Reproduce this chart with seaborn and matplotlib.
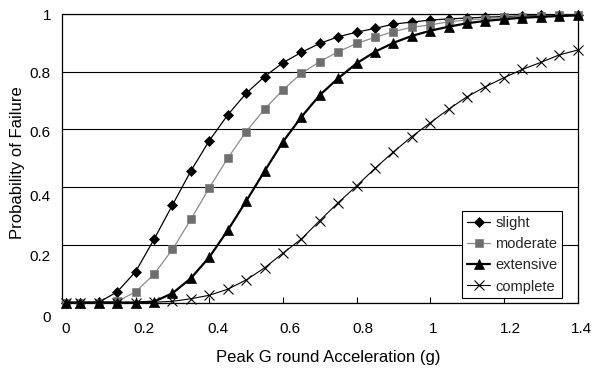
import matplotlib
matplotlib.use("Agg")
import matplotlib.pyplot as plt
import matplotlib.transforms as mtransforms
import seaborn as sns
import pandas as pd

# Peak ground acceleration (g) at which each fragility curve is evaluated
pga = [0.01, 0.05, 0.10, 0.15, 0.20, 0.25, 0.30, 0.35, 0.40, 0.45,
       0.50, 0.55, 0.60, 0.65, 0.70, 0.75, 0.80, 0.85, 0.90, 0.95,
       1.00, 1.05, 1.10, 1.15, 1.20, 1.25, 1.30, 1.35, 1.40]

# Probability of reaching or exceeding each damage state
slight = [0.000, 0.000, 0.001, 0.037, 0.107, 0.219, 0.338, 0.456, 0.561, 0.650,
          0.725, 0.783, 0.831, 0.867, 0.898, 0.921, 0.937, 0.950, 0.965, 0.972,
          0.979, 0.983, 0.986, 0.989, 0.991, 0.993, 0.995, 0.996, 0.997]
moderate = [0.000, 0.000, 0.000, 0.004, 0.037, 0.098, 0.184, 0.288, 0.397, 0.500,
            0.592, 0.670, 0.737, 0.794, 0.835, 0.869, 0.898, 0.919, 0.939, 0.954,
            0.962, 0.973, 0.979, 0.984, 0.988, 0.991, 0.993, 0.995, 0.996]
extensive = [0.000, 0.000, 0.000, 0.000, 0.000, 0.003, 0.032, 0.084, 0.157, 0.250,
             0.351, 0.455, 0.557, 0.643, 0.719, 0.777, 0.829, 0.869, 0.900, 0.924,
             0.942, 0.956, 0.968, 0.976, 0.982, 0.987, 0.990, 0.993, 0.995]
complete = [0.000, 0.000, 0.000, 0.000, 0.000, 0.001, 0.004, 0.013, 0.025, 0.046,
            0.078, 0.120, 0.171, 0.220, 0.284, 0.346, 0.404, 0.465, 0.522, 0.575,
            0.623, 0.670, 0.713, 0.748, 0.779, 0.808, 0.832, 0.858, 0.875]

states = ["slight", "moderate", "extensive", "complete"]
x_ticks = [0, 0.2, 0.4, 0.6, 0.8, 1.0, 1.2, 1.4]
x_ticklabels = ["0", "0.2", "0.4", "0.6", "0.8", "1", "1.2", "1.4"]
y_ticks = [0, 0.2, 0.4, 0.6, 0.8, 1.0]
y_ticklabels = ["0", "0.2", "0.4", "0.6", "0.8", "1"]

# small nudges (pixels) applied to the tick labels for the spreadsheet-style layout
x_label_nudge = [4, 8.5, 9, 7.5, 6, 2.5, 7, 3.5]
y_label_nudge = [14, 11, 8, 2, 1, 0]

df = pd.DataFrame({"pga": pga, "slight": slight, "moderate": moderate,
                   "extensive": extensive, "complete": complete})
long = df.melt(id_vars="pga", value_vars=states, var_name="state", value_name="prob")

sns.set_theme(style="white")
plt.rcParams["font.family"] = ["Liberation Sans", "DejaVu Sans"]

styles = {
    "slight":    dict(color="black",   marker="D", markersize=5.5, lw=0.9,
                      mfc="black", mec="black", mew=0.5),
    "moderate":  dict(color="#8c8c8c", marker="s", markersize=6.2, lw=0.9,
                      mfc="#6e6e6e", mec="#7a7a7a", mew=0.5),
    "extensive": dict(color="black",   marker="^", markersize=7,   lw=1.6,
                      mfc="black", mec="black", mew=0.5),
    "complete":  dict(color="black",   marker="x", markersize=7,   lw=0.8,
                      mfc="black", mec="black", mew=0.8),
}

fig = plt.figure(figsize=(5.92, 3.72), dpi=100)
ax = fig.add_axes([62 / 592, 1 - 302.5 / 372, 515.5 / 592, 288.5 / 372])

for st in states:
    s = styles[st]
    sns.lineplot(data=long[long["state"] == st], x="pga", y="prob", ax=ax,
                 label=st, color=s["color"], linewidth=s["lw"],
                 marker=s["marker"], markersize=s["markersize"],
                 markerfacecolor=s["mfc"], markeredgecolor=s["mec"],
                 markeredgewidth=s["mew"], clip_on=False, zorder=3)

ax.set_xlim(0, 1.4)
ax.set_ylim(0, 1)
ax.set_xticks(x_ticks)
ax.set_xticklabels(x_ticklabels)
ax.set_yticks(y_ticks)
ax.set_yticklabels(y_ticklabels)

ax.yaxis.grid(True, color="black", linewidth=0.8)
ax.xaxis.grid(False)
ax.set_axisbelow(True)
for sp in ax.spines.values():
    sp.set_color("black")
    sp.set_linewidth(0.9)
    sp.set_visible(True)

ax.tick_params(axis="x", direction="in", length=4, width=0.8, color="black",
               bottom=True, pad=14, labelsize=11, labelcolor="black")
ax.tick_params(axis="y", length=0, pad=8, labelsize=11, labelcolor="black")

for lab, dx in zip(ax.get_xticklabels(), x_label_nudge):
    lab.set_transform(lab.get_transform() +
                      mtransforms.ScaledTranslation(dx / 100, 0, fig.dpi_scale_trans))
for lab, dy in zip(ax.get_yticklabels(), y_label_nudge):
    lab.set_transform(lab.get_transform() +
                      mtransforms.ScaledTranslation(0, -dy / 100, fig.dpi_scale_trans))

ax.set_xlabel("Peak G round Acceleration (g)", fontsize=12, color="black")
ax.set_ylabel("Probability of Failure", fontsize=12, color="black")
ax.xaxis.set_label_coords(0.517, -0.189)
ax.xaxis.label.set_va("center")
ax.yaxis.set_label_coords(-0.086, 0.4835)
ax.yaxis.label.set_va("center")

leg = ax.legend(loc="lower right", bbox_to_anchor=(0.9695, 0.016), borderaxespad=0,
                frameon=True, fancybox=False, edgecolor="black", framealpha=1,
                fontsize=10.5, handlelength=1.6, handletextpad=0.35,
                labelspacing=0.5, borderpad=0.3)
leg.get_frame().set_linewidth(0.8)

fig.savefig("out.png", dpi=100)
